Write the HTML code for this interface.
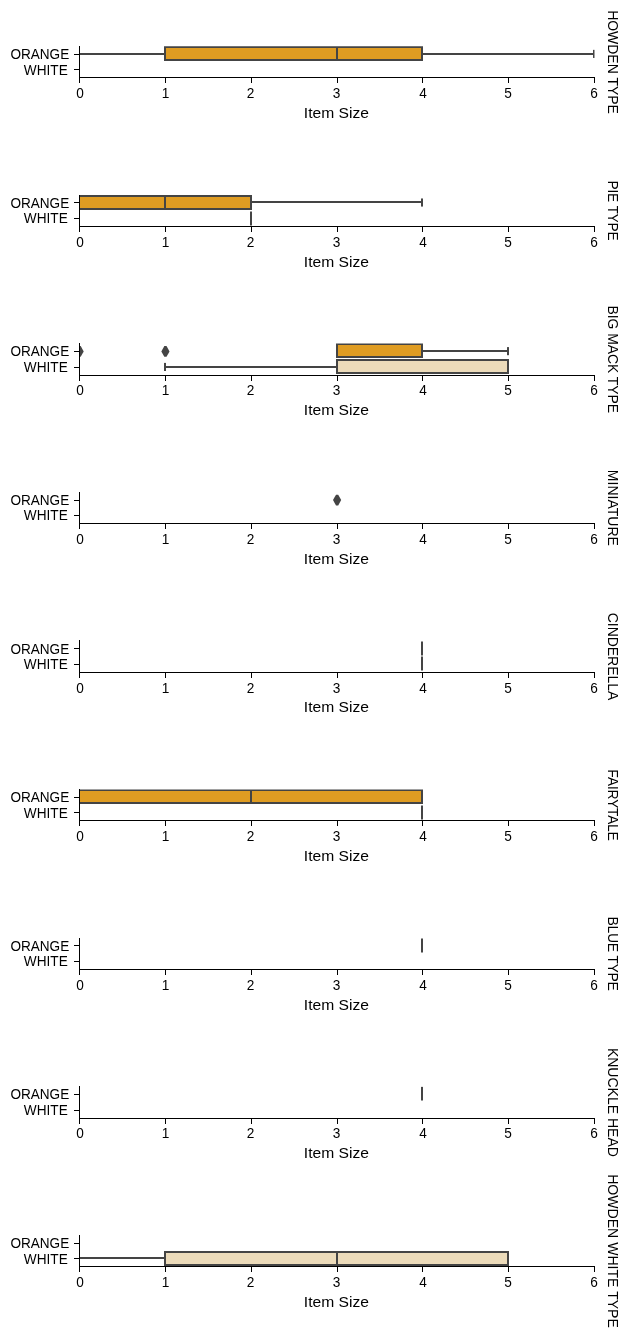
<!DOCTYPE html><html><head><meta charset="utf-8"><style>html,body{margin:0;padding:0;background:#fff;}svg{display:block;will-change:transform;}text{font-family:"Liberation Sans",sans-serif;fill:#000;}</style></head><body>
<svg width="628" height="1337" viewBox="0 0 628 1337">
<rect width="628" height="1337" fill="#fff"/>
<clipPath id="c0"><rect x="79.5" y="46.30" width="515" height="31.20"/></clipPath>
<g clip-path="url(#c0)">
<rect x="79" y="53" width="86" height="2" fill="#444444"/>
<rect x="422" y="53" width="172" height="2" fill="#444444"/>
<rect x="78" y="49.85" width="2" height="8.1" fill="#444444"/>
<rect x="593" y="49.85" width="2" height="8.1" fill="#444444"/>
<rect x="165" y="47" width="257" height="13" fill="#df9c22" stroke="#444444" stroke-width="2"/>
<rect x="336" y="47" width="2" height="13" fill="#444444"/>
</g>
<rect x="79" y="46" width="1" height="32" fill="#000"/>
<rect x="79" y="77" width="516" height="1" fill="#000"/>
<rect x="79" y="78" width="1" height="5" fill="#000"/>
<rect x="165" y="78" width="1" height="5" fill="#000"/>
<rect x="251" y="78" width="1" height="5" fill="#000"/>
<rect x="337" y="78" width="1" height="5" fill="#000"/>
<rect x="422" y="78" width="1" height="5" fill="#000"/>
<rect x="508" y="78" width="1" height="5" fill="#000"/>
<rect x="594" y="78" width="1" height="5" fill="#000"/>
<rect x="74" y="54" width="5" height="1" fill="#000"/>
<rect x="74" y="69" width="5" height="1" fill="#000"/>
<text x="69.25" y="59.00" font-size="14" text-anchor="end" textLength="58.85" lengthAdjust="spacingAndGlyphs">ORANGE</text>
<text x="67.8" y="74.60" font-size="14" text-anchor="end" textLength="43.95" lengthAdjust="spacingAndGlyphs">WHITE</text>
<text x="80.00" y="98.00" font-size="14" text-anchor="middle" textLength="7.60" lengthAdjust="spacingAndGlyphs">0</text>
<text x="165.43" y="98.00" font-size="14" text-anchor="middle" textLength="7.60" lengthAdjust="spacingAndGlyphs">1</text>
<text x="250.47" y="98.00" font-size="14" text-anchor="middle" textLength="7.60" lengthAdjust="spacingAndGlyphs">2</text>
<text x="336.60" y="98.00" font-size="14" text-anchor="middle" textLength="7.60" lengthAdjust="spacingAndGlyphs">3</text>
<text x="423.13" y="98.00" font-size="14" text-anchor="middle" textLength="7.60" lengthAdjust="spacingAndGlyphs">4</text>
<text x="508.07" y="98.00" font-size="14" text-anchor="middle" textLength="7.60" lengthAdjust="spacingAndGlyphs">5</text>
<text x="594.00" y="98.00" font-size="14" text-anchor="middle" textLength="7.60" lengthAdjust="spacingAndGlyphs">6</text>
<text x="336.4" y="117.90" font-size="14" text-anchor="middle" textLength="65.17" lengthAdjust="spacingAndGlyphs">Item Size</text>
<text transform="translate(607.9,62.00) rotate(90)" x="0" y="0" font-size="14" text-anchor="middle" textLength="103.70" lengthAdjust="spacingAndGlyphs">HOWDEN TYPE</text>
<clipPath id="c1"><rect x="79.5" y="194.93" width="515" height="31.57"/></clipPath>
<g clip-path="url(#c1)">
<rect x="251" y="201" width="171" height="2" fill="#444444"/>
<rect x="78" y="198.47" width="2" height="8.1" fill="#444444"/>
<rect x="421" y="198.47" width="2" height="8.1" fill="#444444"/>
<rect x="79" y="196" width="172" height="13" fill="#df9c22" stroke="#444444" stroke-width="2"/>
<rect x="164" y="196" width="2" height="13" fill="#444444"/>
<rect x="250" y="211.5" width="2" height="14" fill="#444444"/>
</g>
<rect x="79" y="195" width="1" height="32" fill="#000"/>
<rect x="79" y="226" width="516" height="1" fill="#000"/>
<rect x="79" y="227" width="1" height="5" fill="#000"/>
<rect x="165" y="227" width="1" height="5" fill="#000"/>
<rect x="251" y="227" width="1" height="5" fill="#000"/>
<rect x="337" y="227" width="1" height="5" fill="#000"/>
<rect x="422" y="227" width="1" height="5" fill="#000"/>
<rect x="508" y="227" width="1" height="5" fill="#000"/>
<rect x="594" y="227" width="1" height="5" fill="#000"/>
<rect x="74" y="202" width="5" height="1" fill="#000"/>
<rect x="74" y="218" width="5" height="1" fill="#000"/>
<text x="69.25" y="207.62" font-size="14" text-anchor="end" textLength="58.85" lengthAdjust="spacingAndGlyphs">ORANGE</text>
<text x="67.8" y="223.22" font-size="14" text-anchor="end" textLength="43.95" lengthAdjust="spacingAndGlyphs">WHITE</text>
<text x="80.00" y="246.62" font-size="14" text-anchor="middle" textLength="7.60" lengthAdjust="spacingAndGlyphs">0</text>
<text x="165.43" y="246.62" font-size="14" text-anchor="middle" textLength="7.60" lengthAdjust="spacingAndGlyphs">1</text>
<text x="250.47" y="246.62" font-size="14" text-anchor="middle" textLength="7.60" lengthAdjust="spacingAndGlyphs">2</text>
<text x="336.60" y="246.62" font-size="14" text-anchor="middle" textLength="7.60" lengthAdjust="spacingAndGlyphs">3</text>
<text x="423.13" y="246.62" font-size="14" text-anchor="middle" textLength="7.60" lengthAdjust="spacingAndGlyphs">4</text>
<text x="508.07" y="246.62" font-size="14" text-anchor="middle" textLength="7.60" lengthAdjust="spacingAndGlyphs">5</text>
<text x="594.00" y="246.62" font-size="14" text-anchor="middle" textLength="7.60" lengthAdjust="spacingAndGlyphs">6</text>
<text x="336.4" y="266.52" font-size="14" text-anchor="middle" textLength="65.17" lengthAdjust="spacingAndGlyphs">Item Size</text>
<text transform="translate(607.9,210.62) rotate(90)" x="0" y="0" font-size="14" text-anchor="middle" textLength="59.89" lengthAdjust="spacingAndGlyphs">PIE TYPE</text>
<clipPath id="c2"><rect x="79.5" y="343.55" width="515" height="31.95"/></clipPath>
<g clip-path="url(#c2)">
<rect x="422" y="350" width="86" height="2" fill="#444444"/>
<rect x="336" y="347.10" width="2" height="8.1" fill="#444444"/>
<rect x="507" y="347.10" width="2" height="8.1" fill="#444444"/>
<rect x="337" y="344" width="85" height="13" fill="#df9c22" stroke="#444444" stroke-width="2"/>
<rect x="421" y="344" width="2" height="13" fill="#444444"/>
<path d="M78.50,346.00L80.70,346.00L83.70,351.40L80.70,356.80L78.50,356.80L75.50,351.40Z" fill="#444444"/>
<path d="M164.33,346.00L166.53,346.00L169.53,351.40L166.53,356.80L164.33,356.80L161.33,351.40Z" fill="#444444"/>
<rect x="165" y="366" width="172" height="2" fill="#444444"/>
<rect x="164" y="362.90" width="2" height="8.1" fill="#444444"/>
<rect x="507" y="362.90" width="2" height="8.1" fill="#444444"/>
<rect x="337" y="360" width="171" height="13" fill="#ecdbba" stroke="#444444" stroke-width="2"/>
<rect x="507" y="360" width="2" height="13" fill="#444444"/>
</g>
<rect x="79" y="343" width="1" height="33" fill="#000"/>
<rect x="79" y="375" width="516" height="1" fill="#000"/>
<rect x="79" y="376" width="1" height="5" fill="#000"/>
<rect x="165" y="376" width="1" height="5" fill="#000"/>
<rect x="251" y="376" width="1" height="5" fill="#000"/>
<rect x="337" y="376" width="1" height="5" fill="#000"/>
<rect x="422" y="376" width="1" height="5" fill="#000"/>
<rect x="508" y="376" width="1" height="5" fill="#000"/>
<rect x="594" y="376" width="1" height="5" fill="#000"/>
<rect x="74" y="351" width="5" height="1" fill="#000"/>
<rect x="74" y="367" width="5" height="1" fill="#000"/>
<text x="69.25" y="356.25" font-size="14" text-anchor="end" textLength="58.85" lengthAdjust="spacingAndGlyphs">ORANGE</text>
<text x="67.8" y="371.85" font-size="14" text-anchor="end" textLength="43.95" lengthAdjust="spacingAndGlyphs">WHITE</text>
<text x="80.00" y="395.25" font-size="14" text-anchor="middle" textLength="7.60" lengthAdjust="spacingAndGlyphs">0</text>
<text x="165.43" y="395.25" font-size="14" text-anchor="middle" textLength="7.60" lengthAdjust="spacingAndGlyphs">1</text>
<text x="250.47" y="395.25" font-size="14" text-anchor="middle" textLength="7.60" lengthAdjust="spacingAndGlyphs">2</text>
<text x="336.60" y="395.25" font-size="14" text-anchor="middle" textLength="7.60" lengthAdjust="spacingAndGlyphs">3</text>
<text x="423.13" y="395.25" font-size="14" text-anchor="middle" textLength="7.60" lengthAdjust="spacingAndGlyphs">4</text>
<text x="508.07" y="395.25" font-size="14" text-anchor="middle" textLength="7.60" lengthAdjust="spacingAndGlyphs">5</text>
<text x="594.00" y="395.25" font-size="14" text-anchor="middle" textLength="7.60" lengthAdjust="spacingAndGlyphs">6</text>
<text x="336.4" y="415.15" font-size="14" text-anchor="middle" textLength="65.17" lengthAdjust="spacingAndGlyphs">Item Size</text>
<text transform="translate(607.9,359.25) rotate(90)" x="0" y="0" font-size="14" text-anchor="middle" textLength="107.58" lengthAdjust="spacingAndGlyphs">BIG MACK TYPE</text>
<clipPath id="c3"><rect x="79.5" y="492.18" width="515" height="31.32"/></clipPath>
<g clip-path="url(#c3)">
<path d="M336.00,494.63L338.20,494.63L341.20,500.03L338.20,505.43L336.00,505.43L333.00,500.03Z" fill="#444444"/>
</g>
<rect x="79" y="492" width="1" height="32" fill="#000"/>
<rect x="79" y="523" width="516" height="1" fill="#000"/>
<rect x="79" y="524" width="1" height="5" fill="#000"/>
<rect x="165" y="524" width="1" height="5" fill="#000"/>
<rect x="251" y="524" width="1" height="5" fill="#000"/>
<rect x="337" y="524" width="1" height="5" fill="#000"/>
<rect x="422" y="524" width="1" height="5" fill="#000"/>
<rect x="508" y="524" width="1" height="5" fill="#000"/>
<rect x="594" y="524" width="1" height="5" fill="#000"/>
<rect x="74" y="500" width="5" height="1" fill="#000"/>
<rect x="74" y="515" width="5" height="1" fill="#000"/>
<text x="69.25" y="504.88" font-size="14" text-anchor="end" textLength="58.85" lengthAdjust="spacingAndGlyphs">ORANGE</text>
<text x="67.8" y="520.48" font-size="14" text-anchor="end" textLength="43.95" lengthAdjust="spacingAndGlyphs">WHITE</text>
<text x="80.00" y="543.88" font-size="14" text-anchor="middle" textLength="7.60" lengthAdjust="spacingAndGlyphs">0</text>
<text x="165.43" y="543.88" font-size="14" text-anchor="middle" textLength="7.60" lengthAdjust="spacingAndGlyphs">1</text>
<text x="250.47" y="543.88" font-size="14" text-anchor="middle" textLength="7.60" lengthAdjust="spacingAndGlyphs">2</text>
<text x="336.60" y="543.88" font-size="14" text-anchor="middle" textLength="7.60" lengthAdjust="spacingAndGlyphs">3</text>
<text x="423.13" y="543.88" font-size="14" text-anchor="middle" textLength="7.60" lengthAdjust="spacingAndGlyphs">4</text>
<text x="508.07" y="543.88" font-size="14" text-anchor="middle" textLength="7.60" lengthAdjust="spacingAndGlyphs">5</text>
<text x="594.00" y="543.88" font-size="14" text-anchor="middle" textLength="7.60" lengthAdjust="spacingAndGlyphs">6</text>
<text x="336.4" y="563.77" font-size="14" text-anchor="middle" textLength="65.17" lengthAdjust="spacingAndGlyphs">Item Size</text>
<text transform="translate(607.9,507.88) rotate(90)" x="0" y="0" font-size="14" text-anchor="middle" textLength="76.21" lengthAdjust="spacingAndGlyphs">MINIATURE</text>
<clipPath id="c4"><rect x="79.5" y="640.80" width="515" height="31.70"/></clipPath>
<g clip-path="url(#c4)">
<rect x="421" y="641.5" width="2" height="14" fill="#444444"/>
<rect x="421" y="656.5" width="2" height="14" fill="#444444"/>
</g>
<rect x="79" y="640" width="1" height="33" fill="#000"/>
<rect x="79" y="672" width="516" height="1" fill="#000"/>
<rect x="79" y="673" width="1" height="5" fill="#000"/>
<rect x="165" y="673" width="1" height="5" fill="#000"/>
<rect x="251" y="673" width="1" height="5" fill="#000"/>
<rect x="337" y="673" width="1" height="5" fill="#000"/>
<rect x="422" y="673" width="1" height="5" fill="#000"/>
<rect x="508" y="673" width="1" height="5" fill="#000"/>
<rect x="594" y="673" width="1" height="5" fill="#000"/>
<rect x="74" y="648" width="5" height="1" fill="#000"/>
<rect x="74" y="664" width="5" height="1" fill="#000"/>
<text x="69.25" y="653.50" font-size="14" text-anchor="end" textLength="58.85" lengthAdjust="spacingAndGlyphs">ORANGE</text>
<text x="67.8" y="669.10" font-size="14" text-anchor="end" textLength="43.95" lengthAdjust="spacingAndGlyphs">WHITE</text>
<text x="80.00" y="692.50" font-size="14" text-anchor="middle" textLength="7.60" lengthAdjust="spacingAndGlyphs">0</text>
<text x="165.43" y="692.50" font-size="14" text-anchor="middle" textLength="7.60" lengthAdjust="spacingAndGlyphs">1</text>
<text x="250.47" y="692.50" font-size="14" text-anchor="middle" textLength="7.60" lengthAdjust="spacingAndGlyphs">2</text>
<text x="336.60" y="692.50" font-size="14" text-anchor="middle" textLength="7.60" lengthAdjust="spacingAndGlyphs">3</text>
<text x="423.13" y="692.50" font-size="14" text-anchor="middle" textLength="7.60" lengthAdjust="spacingAndGlyphs">4</text>
<text x="508.07" y="692.50" font-size="14" text-anchor="middle" textLength="7.60" lengthAdjust="spacingAndGlyphs">5</text>
<text x="594.00" y="692.50" font-size="14" text-anchor="middle" textLength="7.60" lengthAdjust="spacingAndGlyphs">6</text>
<text x="336.4" y="712.40" font-size="14" text-anchor="middle" textLength="65.17" lengthAdjust="spacingAndGlyphs">Item Size</text>
<text transform="translate(607.9,656.50) rotate(90)" x="0" y="0" font-size="14" text-anchor="middle" textLength="87.54" lengthAdjust="spacingAndGlyphs">CINDERELLA</text>
<clipPath id="c5"><rect x="79.5" y="789.42" width="515" height="31.08"/></clipPath>
<g clip-path="url(#c5)">
<rect x="78" y="792.98" width="2" height="8.1" fill="#444444"/>
<rect x="421" y="792.98" width="2" height="8.1" fill="#444444"/>
<rect x="79" y="790" width="343" height="13" fill="#df9c22" stroke="#444444" stroke-width="2"/>
<rect x="250" y="790" width="2" height="13" fill="#444444"/>
<rect x="421" y="805.5" width="2" height="14" fill="#444444"/>
</g>
<rect x="79" y="789" width="1" height="32" fill="#000"/>
<rect x="79" y="820" width="516" height="1" fill="#000"/>
<rect x="79" y="821" width="1" height="5" fill="#000"/>
<rect x="165" y="821" width="1" height="5" fill="#000"/>
<rect x="251" y="821" width="1" height="5" fill="#000"/>
<rect x="337" y="821" width="1" height="5" fill="#000"/>
<rect x="422" y="821" width="1" height="5" fill="#000"/>
<rect x="508" y="821" width="1" height="5" fill="#000"/>
<rect x="594" y="821" width="1" height="5" fill="#000"/>
<rect x="74" y="797" width="5" height="1" fill="#000"/>
<rect x="74" y="812" width="5" height="1" fill="#000"/>
<text x="69.25" y="802.12" font-size="14" text-anchor="end" textLength="58.85" lengthAdjust="spacingAndGlyphs">ORANGE</text>
<text x="67.8" y="817.73" font-size="14" text-anchor="end" textLength="43.95" lengthAdjust="spacingAndGlyphs">WHITE</text>
<text x="80.00" y="841.12" font-size="14" text-anchor="middle" textLength="7.60" lengthAdjust="spacingAndGlyphs">0</text>
<text x="165.43" y="841.12" font-size="14" text-anchor="middle" textLength="7.60" lengthAdjust="spacingAndGlyphs">1</text>
<text x="250.47" y="841.12" font-size="14" text-anchor="middle" textLength="7.60" lengthAdjust="spacingAndGlyphs">2</text>
<text x="336.60" y="841.12" font-size="14" text-anchor="middle" textLength="7.60" lengthAdjust="spacingAndGlyphs">3</text>
<text x="423.13" y="841.12" font-size="14" text-anchor="middle" textLength="7.60" lengthAdjust="spacingAndGlyphs">4</text>
<text x="508.07" y="841.12" font-size="14" text-anchor="middle" textLength="7.60" lengthAdjust="spacingAndGlyphs">5</text>
<text x="594.00" y="841.12" font-size="14" text-anchor="middle" textLength="7.60" lengthAdjust="spacingAndGlyphs">6</text>
<text x="336.4" y="861.02" font-size="14" text-anchor="middle" textLength="65.17" lengthAdjust="spacingAndGlyphs">Item Size</text>
<text transform="translate(607.9,805.12) rotate(90)" x="0" y="0" font-size="14" text-anchor="middle" textLength="71.11" lengthAdjust="spacingAndGlyphs">FAIRYTALE</text>
<clipPath id="c6"><rect x="79.5" y="938.05" width="515" height="31.45"/></clipPath>
<g clip-path="url(#c6)">
<rect x="421" y="938.5" width="2" height="14" fill="#444444"/>
</g>
<rect x="79" y="938" width="1" height="32" fill="#000"/>
<rect x="79" y="969" width="516" height="1" fill="#000"/>
<rect x="79" y="970" width="1" height="5" fill="#000"/>
<rect x="165" y="970" width="1" height="5" fill="#000"/>
<rect x="251" y="970" width="1" height="5" fill="#000"/>
<rect x="337" y="970" width="1" height="5" fill="#000"/>
<rect x="422" y="970" width="1" height="5" fill="#000"/>
<rect x="508" y="970" width="1" height="5" fill="#000"/>
<rect x="594" y="970" width="1" height="5" fill="#000"/>
<rect x="74" y="945" width="5" height="1" fill="#000"/>
<rect x="74" y="961" width="5" height="1" fill="#000"/>
<text x="69.25" y="950.75" font-size="14" text-anchor="end" textLength="58.85" lengthAdjust="spacingAndGlyphs">ORANGE</text>
<text x="67.8" y="966.35" font-size="14" text-anchor="end" textLength="43.95" lengthAdjust="spacingAndGlyphs">WHITE</text>
<text x="80.00" y="989.75" font-size="14" text-anchor="middle" textLength="7.60" lengthAdjust="spacingAndGlyphs">0</text>
<text x="165.43" y="989.75" font-size="14" text-anchor="middle" textLength="7.60" lengthAdjust="spacingAndGlyphs">1</text>
<text x="250.47" y="989.75" font-size="14" text-anchor="middle" textLength="7.60" lengthAdjust="spacingAndGlyphs">2</text>
<text x="336.60" y="989.75" font-size="14" text-anchor="middle" textLength="7.60" lengthAdjust="spacingAndGlyphs">3</text>
<text x="423.13" y="989.75" font-size="14" text-anchor="middle" textLength="7.60" lengthAdjust="spacingAndGlyphs">4</text>
<text x="508.07" y="989.75" font-size="14" text-anchor="middle" textLength="7.60" lengthAdjust="spacingAndGlyphs">5</text>
<text x="594.00" y="989.75" font-size="14" text-anchor="middle" textLength="7.60" lengthAdjust="spacingAndGlyphs">6</text>
<text x="336.4" y="1009.65" font-size="14" text-anchor="middle" textLength="65.17" lengthAdjust="spacingAndGlyphs">Item Size</text>
<text transform="translate(607.9,953.75) rotate(90)" x="0" y="0" font-size="14" text-anchor="middle" textLength="74.19" lengthAdjust="spacingAndGlyphs">BLUE TYPE</text>
<clipPath id="c7"><rect x="79.5" y="1086.67" width="515" height="31.83"/></clipPath>
<g clip-path="url(#c7)">
<rect x="421" y="1086.5" width="2" height="14" fill="#444444"/>
</g>
<rect x="79" y="1086" width="1" height="33" fill="#000"/>
<rect x="79" y="1118" width="516" height="1" fill="#000"/>
<rect x="79" y="1119" width="1" height="5" fill="#000"/>
<rect x="165" y="1119" width="1" height="5" fill="#000"/>
<rect x="251" y="1119" width="1" height="5" fill="#000"/>
<rect x="337" y="1119" width="1" height="5" fill="#000"/>
<rect x="422" y="1119" width="1" height="5" fill="#000"/>
<rect x="508" y="1119" width="1" height="5" fill="#000"/>
<rect x="594" y="1119" width="1" height="5" fill="#000"/>
<rect x="74" y="1094" width="5" height="1" fill="#000"/>
<rect x="74" y="1110" width="5" height="1" fill="#000"/>
<text x="69.25" y="1099.38" font-size="14" text-anchor="end" textLength="58.85" lengthAdjust="spacingAndGlyphs">ORANGE</text>
<text x="67.8" y="1114.97" font-size="14" text-anchor="end" textLength="43.95" lengthAdjust="spacingAndGlyphs">WHITE</text>
<text x="80.00" y="1138.38" font-size="14" text-anchor="middle" textLength="7.60" lengthAdjust="spacingAndGlyphs">0</text>
<text x="165.43" y="1138.38" font-size="14" text-anchor="middle" textLength="7.60" lengthAdjust="spacingAndGlyphs">1</text>
<text x="250.47" y="1138.38" font-size="14" text-anchor="middle" textLength="7.60" lengthAdjust="spacingAndGlyphs">2</text>
<text x="336.60" y="1138.38" font-size="14" text-anchor="middle" textLength="7.60" lengthAdjust="spacingAndGlyphs">3</text>
<text x="423.13" y="1138.38" font-size="14" text-anchor="middle" textLength="7.60" lengthAdjust="spacingAndGlyphs">4</text>
<text x="508.07" y="1138.38" font-size="14" text-anchor="middle" textLength="7.60" lengthAdjust="spacingAndGlyphs">5</text>
<text x="594.00" y="1138.38" font-size="14" text-anchor="middle" textLength="7.60" lengthAdjust="spacingAndGlyphs">6</text>
<text x="336.4" y="1158.28" font-size="14" text-anchor="middle" textLength="65.17" lengthAdjust="spacingAndGlyphs">Item Size</text>
<text transform="translate(607.9,1102.38) rotate(90)" x="0" y="0" font-size="14" text-anchor="middle" textLength="109.02" lengthAdjust="spacingAndGlyphs">KNUCKLE HEAD</text>
<clipPath id="c8"><rect x="79.5" y="1235.30" width="515" height="31.20"/></clipPath>
<g clip-path="url(#c8)">
<rect x="79" y="1257" width="86" height="2" fill="#444444"/>
<rect x="78" y="1254.65" width="2" height="8.1" fill="#444444"/>
<rect x="507" y="1254.65" width="2" height="8.1" fill="#444444"/>
<rect x="165" y="1252" width="343" height="13" fill="#ecdbba" stroke="#444444" stroke-width="2"/>
<rect x="336" y="1252" width="2" height="13" fill="#444444"/>
</g>
<rect x="79" y="1235" width="1" height="32" fill="#000"/>
<rect x="79" y="1266" width="516" height="1" fill="#000"/>
<rect x="79" y="1267" width="1" height="5" fill="#000"/>
<rect x="165" y="1267" width="1" height="5" fill="#000"/>
<rect x="251" y="1267" width="1" height="5" fill="#000"/>
<rect x="337" y="1267" width="1" height="5" fill="#000"/>
<rect x="422" y="1267" width="1" height="5" fill="#000"/>
<rect x="508" y="1267" width="1" height="5" fill="#000"/>
<rect x="594" y="1267" width="1" height="5" fill="#000"/>
<rect x="74" y="1243" width="5" height="1" fill="#000"/>
<rect x="74" y="1258" width="5" height="1" fill="#000"/>
<text x="69.25" y="1248.00" font-size="14" text-anchor="end" textLength="58.85" lengthAdjust="spacingAndGlyphs">ORANGE</text>
<text x="67.8" y="1263.60" font-size="14" text-anchor="end" textLength="43.95" lengthAdjust="spacingAndGlyphs">WHITE</text>
<text x="80.00" y="1287.00" font-size="14" text-anchor="middle" textLength="7.60" lengthAdjust="spacingAndGlyphs">0</text>
<text x="165.43" y="1287.00" font-size="14" text-anchor="middle" textLength="7.60" lengthAdjust="spacingAndGlyphs">1</text>
<text x="250.47" y="1287.00" font-size="14" text-anchor="middle" textLength="7.60" lengthAdjust="spacingAndGlyphs">2</text>
<text x="336.60" y="1287.00" font-size="14" text-anchor="middle" textLength="7.60" lengthAdjust="spacingAndGlyphs">3</text>
<text x="423.13" y="1287.00" font-size="14" text-anchor="middle" textLength="7.60" lengthAdjust="spacingAndGlyphs">4</text>
<text x="508.07" y="1287.00" font-size="14" text-anchor="middle" textLength="7.60" lengthAdjust="spacingAndGlyphs">5</text>
<text x="594.00" y="1287.00" font-size="14" text-anchor="middle" textLength="7.60" lengthAdjust="spacingAndGlyphs">6</text>
<text x="336.4" y="1306.90" font-size="14" text-anchor="middle" textLength="65.17" lengthAdjust="spacingAndGlyphs">Item Size</text>
<text transform="translate(607.9,1251.00) rotate(90)" x="0" y="0" font-size="14" text-anchor="middle" textLength="153.74" lengthAdjust="spacingAndGlyphs">HOWDEN WHITE TYPE</text>
</svg></body></html>
